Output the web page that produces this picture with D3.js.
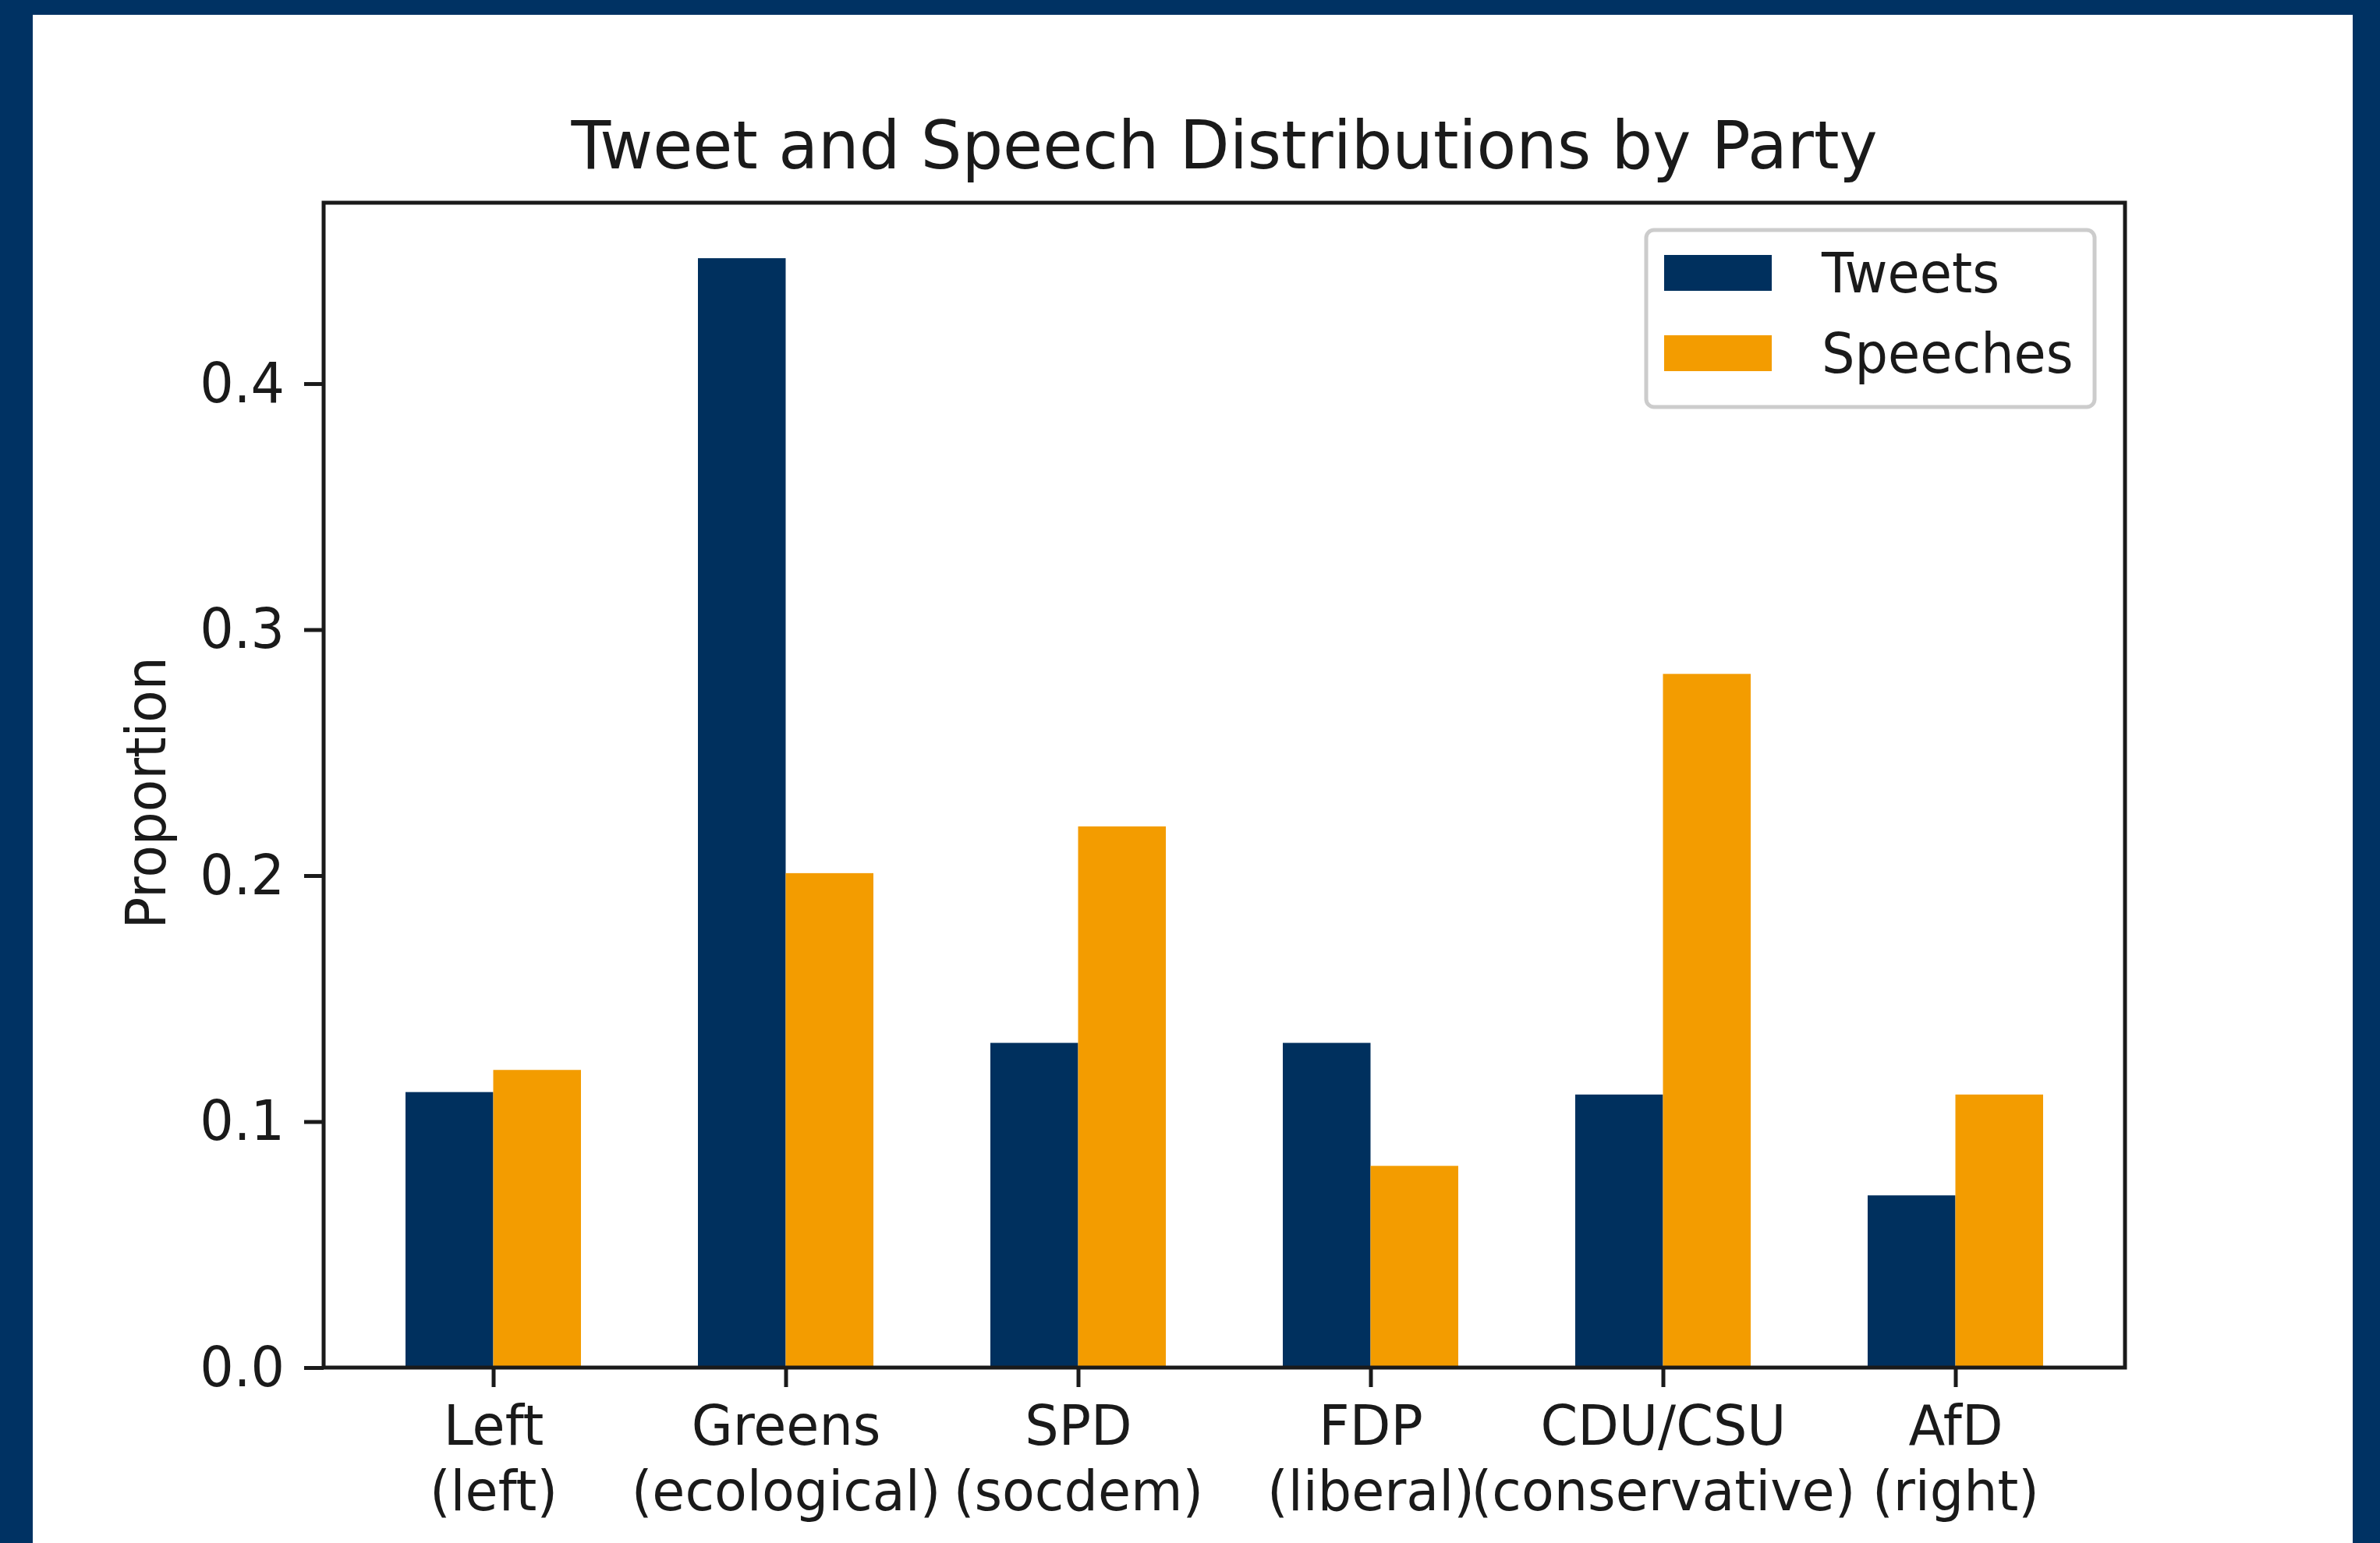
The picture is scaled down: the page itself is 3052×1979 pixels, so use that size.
<!DOCTYPE html>
<html>
<head>
<meta charset="utf-8">
<script src="https://cdn.jsdelivr.net/npm/d3@7"></script>
<style>
  html, body { margin: 0; padding: 0; background: #003263; }
  svg { display: block; }
  text { font-family: "DejaVu Sans", sans-serif; fill: #1a1a1a; }
</style>
</head>
<body>
<div id="dataviz-container"></div>
<script>
// chart data
var parties = ['Left', 'Greens', 'SPD', 'FDP', 'CDU/CSU', 'AfD'];
var leanings = ['(left)', '(ecological)', '(socdem)', '(liberal)', '(conservative)', '(right)'];
var tweets = [0.112, 0.451, 0.132, 0.132, 0.111, 0.070];
var speeches = [0.121, 0.201, 0.220, 0.082, 0.282, 0.111];
var yTicks = [0.0, 0.1, 0.2, 0.3, 0.4];
var seriesNames = ['Tweets', 'Speeches'];
var seriesColors = ['#00305e', '#f39c00'];

const W = 3052, H = 1979;
const plot = { left: 415, right: 2725, top: 260, bottom: 1754 };
const barW = 0.3;
const fontSize = 72;
const squeeze = 0.95; // reference glyphs are a bit narrower than DejaVu

var svg = d3.select('#dataviz-container')
  .append('svg')
  .attr('width', W).attr('height', H);

// blue frame + white canvas
svg.append('rect').attr('width', W).attr('height', H).attr('fill', '#003263');
svg.append('rect').attr('x', 42).attr('y', 19).attr('width', 3017 - 42).attr('height', H - 19).attr('fill', '#ffffff');

var xScale = d3.scaleLinear()
  .domain([-barW - 0.28, parties.length - 1 + barW + 0.28])
  .range([plot.left, plot.right]);

var yMax = d3.max(tweets.concat(speeches)) * 1.05;
var yScale = d3.scaleLinear()
  .domain([0, yMax])
  .range([plot.bottom, plot.top]);

// bars
var series = [tweets, speeches];
series.forEach(function(vals, si) {
  svg.append('g').selectAll('rect')
    .data(vals)
    .enter()
    .append('rect')
    .attr('x', (d, i) => xScale(i + (si - 1) * barW))
    .attr('width', xScale(barW) - xScale(0))
    .attr('y', d => yScale(d))
    .attr('height', d => plot.bottom - yScale(d))
    .attr('fill', seriesColors[si]);
});

// y axis
var yAxis = svg.append('g')
  .attr('transform', `translate(${plot.left},0)`)
  .call(d3.axisLeft(yScale).tickValues(yTicks).tickFormat(d3.format('.1f')).tickSize(25).tickPadding(22));
yAxis.select('.domain').remove();
yAxis.selectAll('line').attr('stroke', '#1a1a1a').attr('stroke-width', 5);
yAxis.selectAll('text')
  .attr('font-size', fontSize).attr('font-family', '"DejaVu Sans", sans-serif').attr('fill', '#1a1a1a')
  .attr('x', 0)
  .attr('transform', `translate(-50,0) scale(${squeeze},1)`);

// x axis
var xAxis = svg.append('g')
  .attr('transform', `translate(0,${plot.bottom})`)
  .call(d3.axisBottom(xScale).tickValues(d3.range(parties.length)).tickFormat('').tickSize(25));
xAxis.select('.domain').remove();
xAxis.selectAll('line').attr('stroke', '#1a1a1a').attr('stroke-width', 5);
xAxis.selectAll('.tick').each(function(d) {
  var t = d3.select(this).append('text')
    .attr('text-anchor', 'middle')
    .attr('font-size', fontSize)
    .attr('fill', '#1a1a1a')
    .attr('transform', `scale(${squeeze},1)`);
  t.append('tspan').attr('x', 0).attr('y', 99).text(parties[d]);
  t.append('tspan').attr('x', 0).attr('y', 183).text(leanings[d]);
});

// spines
svg.append('rect')
  .attr('x', plot.left).attr('y', plot.top)
  .attr('width', plot.right - plot.left).attr('height', plot.bottom - plot.top)
  .attr('fill', 'none').attr('stroke', '#1a1a1a').attr('stroke-width', 5);

// title
svg.append('text')
  .attr('transform', `translate(${(plot.left + plot.right) / 2},216) scale(0.965,1)`)
  .attr('text-anchor', 'middle').attr('font-size', 86)
  .text('Tweet and Speech Distributions by Party');

// y label
svg.append('text')
  .attr('transform', `translate(212,${(plot.top + plot.bottom) / 2 + 10}) rotate(-90) scale(0.94,1)`)
  .attr('text-anchor', 'middle').attr('font-size', fontSize)
  .text('Proportion');

// legend
var legend = svg.append('g').attr('transform', 'translate(2111,295)');
legend.append('rect')
  .attr('width', 575).attr('height', 227).attr('rx', 10)
  .attr('fill', '#ffffff').attr('fill-opacity', 0.8)
  .attr('stroke', '#cccccc').attr('stroke-width', 5);
seriesNames.forEach(function(name, i) {
  legend.append('rect')
    .attr('x', 23).attr('y', 32 + i * 103)
    .attr('width', 138).attr('height', 46)
    .attr('fill', seriesColors[i]);
  legend.append('text')
    .attr('transform', `translate(225,${80 + i * 103}) scale(0.93,1)`)
    .attr('font-size', fontSize)
    .text(name);
});
</script>
</body>
</html>
